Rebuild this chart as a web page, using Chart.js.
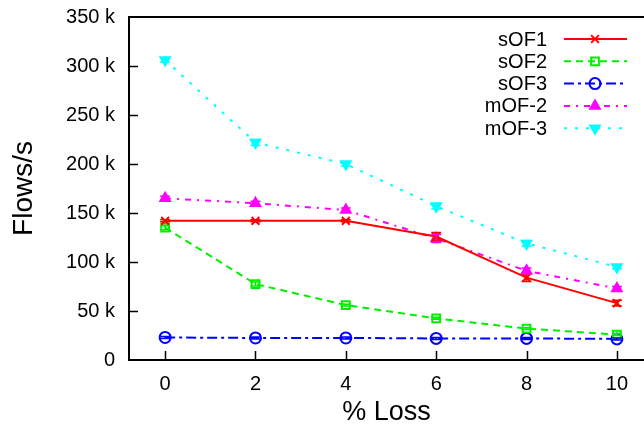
<!DOCTYPE html>
<html><head><meta charset="utf-8">
<script src="https://cdn.jsdelivr.net/npm/chart.js@4/dist/chart.umd.min.js"></script>
<style>html,body{margin:0;padding:0;background:#fff}#wrap{width:644px;height:430px}</style>
</head><body><div id="wrap"><canvas id="c" width="644" height="430"></canvas></div>
<script>
const lossPct = [0, 2, 4, 6, 8, 10];
const xTicks = [0, 2, 4, 6, 8, 10];
const yTicks = [0, 50, 100, 150, 200, 250, 300, 350];
const sOF1 = [142, 142, 142, 126, 84, 58];
const sOF2 = [135, 77.5, 56, 42.5, 32, 26];
const sOF3 = [23, 22.5, 22.5, 22, 22, 21.5];
const mOF2 = [165, 160, 153, 124, 91, 73];
const mOF3 = [306, 222, 200, 157, 119, 95];
const sOF1err = [1, 1, 1, 4, 4, 3];
const sOF2err = [2, 2, 1, 1, 1, 1];
const sOF3err = [1, 1, 1, 1, 1, 1];
const mOF2err = [2, 2, 2, 4, 3, 2];
const mOF3err = [2, 3, 2, 3, 3, 2];

const FONT = '"Liberation Sans", Arial, Helvetica, sans-serif';

function mk(label, vals, errs, color, dash, style, rot, fill) {
  return {
    label, data: lossPct.map((x, i) => ({x, y: vals[i]})), errs, filledMark: fill,
    borderColor: color, backgroundColor: fill ? color : '#fff',
    borderWidth: 2, borderDash: dash, pointStyle: style, pointRotation: rot,
    pointRadius: 5.5, pointBorderWidth: 2, pointBorderColor: color,
    pointBackgroundColor: fill ? color : 'rgba(0,0,0,0)', tension: 0, fill: false
  };
}

const datasets = [
  mk('sOF1', sOF1, sOF1err, '#ff0000', [], 'crossRot', 0, false),
  mk('sOF2', sOF2, sOF2err, '#00f000', [7, 5], 'rect', 0, false),
  mk('sOF3', sOF3, sOF3err, '#0000ff', [10, 4, 3, 4], 'circle', 0, false),
  mk('mOF-2', mOF2, mOF2err, '#ff00ff', [6, 6, 2, 6], 'triangle', 0, true),
  mk('mOF-3', mOF3, mOF3err, '#00ffff', [3, 8], 'triangle', 180, true)
];

const framePlugin = {
  id: 'frame',
  afterDatasetsDraw(chart) {
    const {ctx, chartArea: a, scales: {x, y}} = chart;
    ctx.save();
    chart.data.datasets.forEach(ds => {
      ctx.strokeStyle = ds.borderColor; ctx.lineWidth = 1.5; ctx.setLineDash([]);
      ds.data.forEach((p, i) => {
        const px = x.getPixelForValue(p.x);
        const y1 = y.getPixelForValue(p.y - ds.errs[i]);
        const y2 = y.getPixelForValue(p.y + ds.errs[i]);
        ctx.beginPath();
        ctx.moveTo(px, y1); ctx.lineTo(px, y2);
        ctx.moveTo(px - 5, y1); ctx.lineTo(px + 5, y1);
        ctx.moveTo(px - 5, y2); ctx.lineTo(px + 5, y2);
        ctx.stroke();
      });
    });
    ctx.strokeStyle = '#000'; ctx.lineWidth = 2; ctx.setLineDash([]);
    ctx.beginPath();
    ctx.moveTo(a.right + 2, a.top); ctx.lineTo(a.left, a.top);
    ctx.lineTo(a.left, a.bottom); ctx.lineTo(a.right + 2, a.bottom);
    ctx.stroke();
    ctx.lineWidth = 1.5;
    ctx.beginPath();
    yTicks.forEach(v => { const py = Math.round(y.getPixelForValue(v)) + 0.5; if (v > 0 && v < 350) { ctx.moveTo(a.left, py); ctx.lineTo(a.left + 9, py); } });
    xTicks.forEach(v => { const px = Math.round(x.getPixelForValue(v)) + 0.5; ctx.moveTo(px, a.bottom); ctx.lineTo(px, a.bottom - 9); });
    ctx.stroke();
    ctx.font = '20px ' + FONT;
    ctx.textAlign = 'right'; ctx.textBaseline = 'middle';
    chart.data.datasets.forEach((ds, i) => {
      const ly = 39 + i * 22.3;
      ctx.fillStyle = '#000';
      ctx.fillText(ds.label, 547, ly + 1);
      ctx.strokeStyle = ds.borderColor; ctx.lineWidth = 2; ctx.setLineDash(ds.borderDash);
      ctx.beginPath(); ctx.moveTo(564, ly); ctx.lineTo(627, ly); ctx.stroke();
      ctx.setLineDash([]);
      ctx.fillStyle = ds.filledMark ? ds.borderColor : 'rgba(0,0,0,0)';
      Chart.helpers.drawPoint(ctx, {pointStyle: ds.pointStyle, rotation: ds.pointRotation, radius: 5.5, borderWidth: 2}, 595, ly);
    });
    ctx.restore();
  }
};

new Chart(document.getElementById('c'), {
  type: 'line',
  data: {datasets},
  options: {
    responsive: false, animation: false, devicePixelRatio: 1,
    layout: {padding: {top: 17, right: 0, left: 0, bottom: 0}, autoPadding: false},
    plugins: {legend: {display: false}, tooltip: {enabled: false}},
    scales: {
      x: {
        type: 'linear', min: -0.8, max: 10.6,
        afterBuildTicks: s => { s.ticks = xTicks.map(v => ({value: v})); },
        afterFit: s => { s.height = 70; s.paddingLeft = 0; s.paddingRight = 0; },
        grid: {display: false, drawTicks: false},
        border: {display: false},
        ticks: {padding: 12, color: '#000', font: {family: FONT, size: 20}, maxRotation: 0},
        title: {display: true, text: '% Loss', color: '#000', font: {family: FONT, size: 27}, padding: {top: 0, bottom: 1}}
      },
      y: {
        min: 0, max: 350,
        afterBuildTicks: s => { s.ticks = yTicks.map(v => ({value: v})); },
        afterFit: s => { s.width = 129; s.paddingTop = 0; s.paddingBottom = 0; },
        grid: {display: false, drawTicks: false},
        border: {display: false},
        ticks: {padding: 14, color: '#000', font: {family: FONT, size: 20}, callback: v => v === 0 ? '0' : v + ' k'},
        title: {display: true, text: 'Flows/s', color: '#000', font: {family: FONT, size: 28}, padding: {top: 7, bottom: 0}}
      }
    }
  },
  plugins: [framePlugin]
});
</script></body></html>
